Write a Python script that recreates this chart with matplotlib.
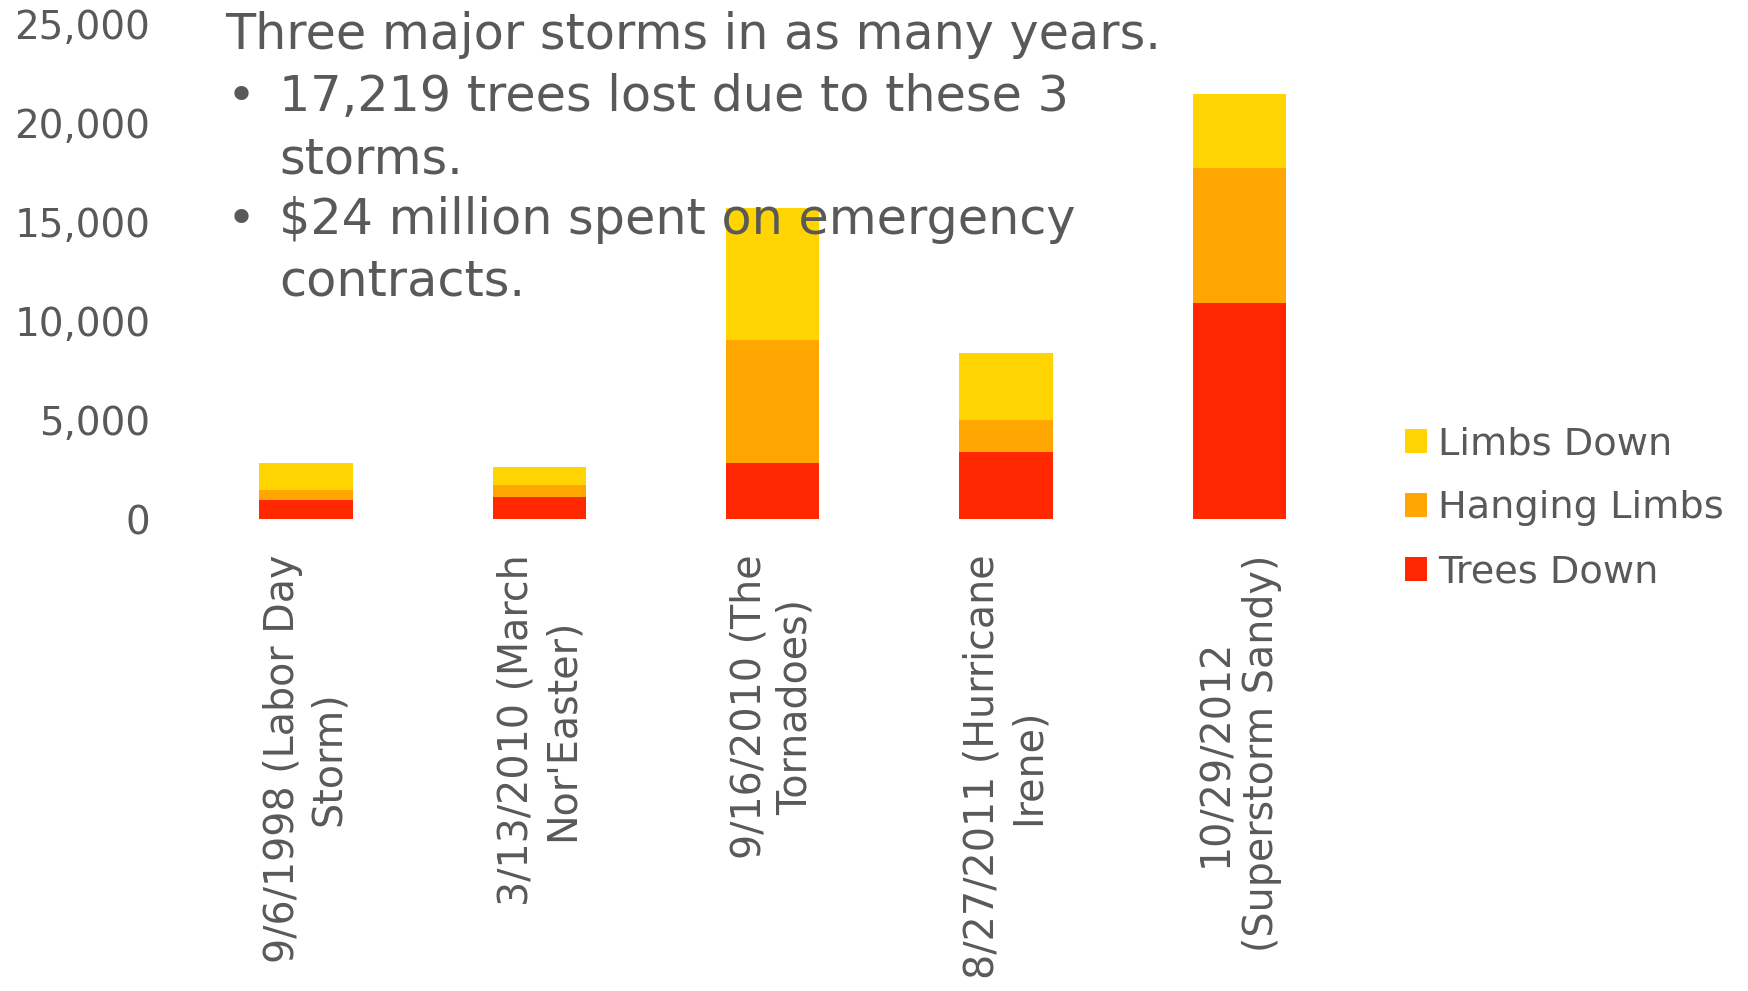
import matplotlib.pyplot as plt
from matplotlib.ticker import FuncFormatter

# Data
storms = ["9/6/1998 (Labor Day\nStorm)",
          "3/13/2010 (March\nNor'Easter)",
          "9/16/2010 (The\nTornadoes)",
          "8/27/2011 (Hurricane\nIrene)",
          "10/29/2012\n(Superstorm Sandy)"]
trees_down = [1000, 1150, 2840, 3430, 10950]
hanging_limbs = [505, 610, 6240, 1600, 6820]
limbs_down = [1335, 880, 6640, 3400, 3720]

c_trees = '#FF2800'
c_hanging = '#FFA700'
c_limbs = '#FFD400'
grey = '#595959'

plt.rcParams['font.family'] = ['DejaVu Sans']

fig = plt.figure(figsize=(17.48, 9.91), dpi=100)
ax = fig.add_axes([0.1083, 0.4758, 0.6674, 0.4995])

x = range(len(storms))
w = 0.4
ax.bar(x, trees_down, w, color=c_trees, label='Trees Down')
bottom2 = [a for a in trees_down]
ax.bar(x, hanging_limbs, w, bottom=bottom2, color=c_hanging, label='Hanging Limbs')
bottom3 = [a + b for a, b in zip(trees_down, hanging_limbs)]
ax.bar(x, limbs_down, w, bottom=bottom3, color=c_limbs, label='Limbs Down')

ax.set_xlim(-0.5, len(storms) - 0.5)
ax.set_ylim(0, 25000)
ax.set_yticks(range(0, 25001, 5000))
ax.yaxis.set_major_formatter(FuncFormatter(lambda v, p: f'{int(v):,}'))
ax.set_xticks(list(x))
ax.set_xticklabels(storms, rotation=90, ha='center', va='top',
                   multialignment='center')
ax.tick_params(axis='y', length=0, pad=28, labelsize=28, labelcolor=grey)
ax.tick_params(axis='x', length=0, pad=25, labelsize=28.5, labelcolor=grey)
for s in ax.spines.values():
    s.set_visible(False)

# legend, reversed order like the original
h, l = ax.get_legend_handles_labels()
leg = fig.legend(h[::-1], l[::-1], loc='center left',
                 bbox_to_anchor=(0.784, 0.487), frameon=False,
                 fontsize=27.5, handlelength=0.57, handleheight=0.57,
                 handletextpad=0.3, labelspacing=0.73)
for t in leg.get_texts():
    t.set_color(grey)

# overlaid text box
fs = 35.5
H = 991
fig.text(225 / 1748, 1 - 35 / H, 'Three major storms in as many years.',
         fontsize=fs, color=grey, va='center')
lines = [(97, '17,219 trees lost due to these 3', True),
         (159, 'storms.', False),
         (220, '$24 million spent on emergency', True),
         (282, 'contracts.', False)]
for yy, txt, bullet in lines:
    if bullet:
        fig.text(227 / 1748, 1 - yy / H, '\u2022', fontsize=fs, color=grey,
                 va='center')
    fig.text(279 / 1748, 1 - yy / H, txt, fontsize=fs, color=grey,
             va='center')

fig.savefig('out.png', dpi=100)
